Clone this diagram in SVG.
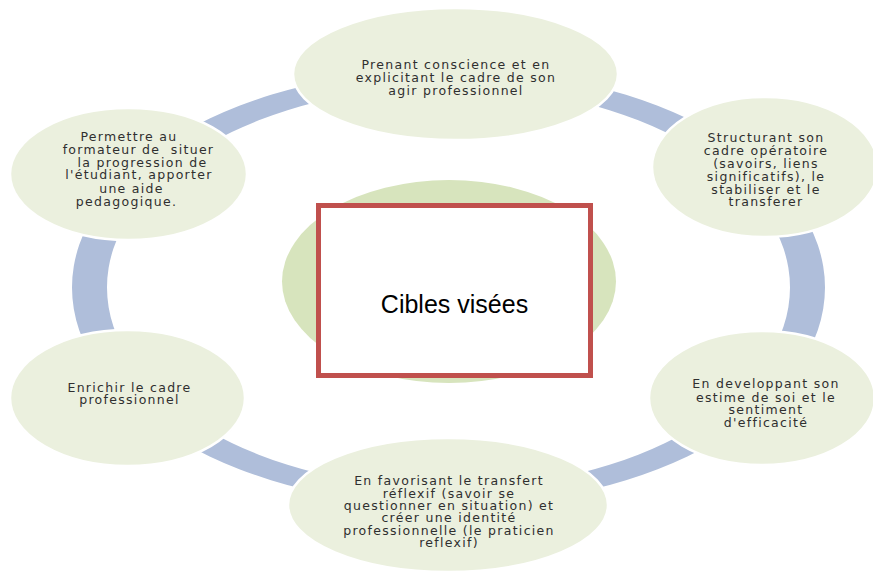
<svg xmlns="http://www.w3.org/2000/svg" width="873" height="573" viewBox="0 0 873 573">
<style>
.bg{fill:#ffffff}
.ring{fill:#AFBEDA;fill-rule:evenodd}
.node{fill:#EBF0DE;stroke:#ffffff;stroke-width:2.5}
.core{fill:#D7E4BD}
.box{fill:#ffffff;stroke:#C0504D;stroke-width:5}
.t{font-family:"DejaVu Sans",Verdana,sans-serif;font-size:12.5px;fill:#2f2f2f;text-anchor:middle;letter-spacing:1.3px}
.title{font-family:"Liberation Sans",Arial,sans-serif;font-size:25px;fill:#000000;text-anchor:middle}
</style>
<rect class="bg" x="0" y="0" width="873" height="573"/>
<g id="connectors">
<path class="ring" d="M72,287.5 a376.5,218.5 0 1,0 753,0 a376.5,218.5 0 1,0 -753,0 Z M107,287.5 a341.5,201 0 1,0 683,0 a341.5,201 0 1,0 -683,0 Z"/>
</g>
<g id="center">
<ellipse class="core" cx="449" cy="281.5" rx="167" ry="101.5"/>
<rect class="box" x="318.5" y="205.5" width="272" height="170"/>
<text class="title" x="454.5" y="313">Cibles visées</text>
</g>
<g id="node-top">
<ellipse class="node" cx="455.5" cy="74" rx="162.5" ry="66"/>
<text class="t" x="456" y="69">Prenant conscience et en</text>
<text class="t" x="456" y="82">explicitant le cadre de son</text>
<text class="t" x="456" y="95">agir professionnel</text>
</g>
<g id="node-top-right">
<ellipse class="node" cx="765" cy="167" rx="113" ry="70"/>
<text class="t" x="766" y="142">Structurant son</text>
<text class="t" x="766" y="155">cadre opératoire</text>
<text class="t" x="766" y="168">(savoirs, liens</text>
<text class="t" x="766" y="181">significatifs), le</text>
<text class="t" x="766" y="193.5">stabiliser et le</text>
<text class="t" x="766" y="206">transferer</text>
</g>
<g id="node-bottom-right">
<ellipse class="node" cx="762" cy="398" rx="113" ry="67"/>
<text class="t" x="766" y="388">En developpant son</text>
<text class="t" x="766" y="401.5">estime de soi et le</text>
<text class="t" x="766" y="414">sentiment</text>
<text class="t" x="766" y="427">d'efficacité</text>
</g>
<g id="node-bottom">
<ellipse class="node" cx="448" cy="505" rx="160" ry="67"/>
<text class="t" x="449" y="485">En favorisant le transfert</text>
<text class="t" x="449" y="497.5">réflexif (savoir se</text>
<text class="t" x="449" y="510">questionner en situation) et</text>
<text class="t" x="449" y="522">créer une identité</text>
<text class="t" x="449" y="534.5">professionnelle (le praticien</text>
<text class="t" x="449" y="546.5">reflexif)</text>
</g>
<g id="node-bottom-left">
<ellipse class="node" cx="127.5" cy="398" rx="117.5" ry="68"/>
<text class="t" x="129.5" y="391.5">Enrichir le cadre</text>
<text class="t" x="129.5" y="404">professionnel</text>
</g>
<g id="node-top-left">
<ellipse class="node" cx="128.5" cy="174" rx="118.5" ry="66"/>
<text class="t" x="129" y="140.5">Permettre au</text>
<text class="t" x="138.5" y="154" xml:space="preserve">formateur de  situer</text>
<text class="t" x="142.5" y="166.5">la progression de</text>
<text class="t" x="139" y="179">l'étudiant, apporter</text>
<text class="t" x="131.5" y="192.5">une aide</text>
<text class="t" x="126.5" y="206">pedagogique.</text>
</g>
</svg>
